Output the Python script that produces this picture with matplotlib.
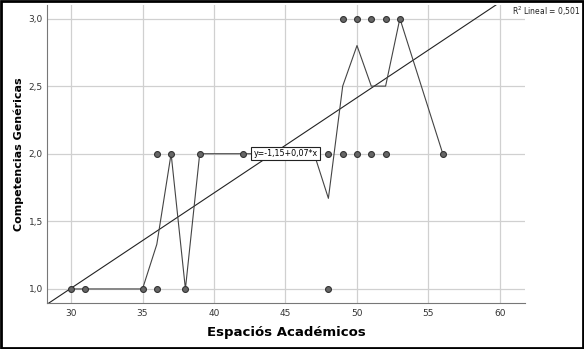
import matplotlib.pyplot as plt
import numpy as np

# individual cases (Espacios Academicos, Competencias Genericas)
pts_x = [30, 31, 35, 36, 38, 48,
         36, 37, 39, 42, 43, 47, 48, 49, 50, 51, 52, 56,
         49, 50, 51, 52, 53]
pts_y = [1.0, 1.0, 1.0, 1.0, 1.0, 1.0,
         2.0, 2.0, 2.0, 2.0, 2.0, 2.0, 2.0, 2.0, 2.0, 2.0, 2.0, 2.0,
         3.0, 3.0, 3.0, 3.0, 3.0]

# interpolation line through the mean per x
mean_x = [30, 31, 35, 36, 37, 38, 39, 42, 43, 47, 48, 49, 50, 51, 52, 53, 56]
mean_y = [1.0, 1.0, 1.0, 1.33, 2.0, 1.0, 2.0, 2.0, 2.0, 2.0, 1.67, 2.5, 2.8, 2.5, 2.5, 3.0, 2.0]

intercept = -1.11
slope = 0.0705
r2_text = 'R$^2$ Lineal = 0,501'
eq_text = 'y=-1,15+0,07*x'

x_ticks = [30, 35, 40, 45, 50, 55, 60]
y_ticks = [1.0, 1.5, 2.0, 2.5, 3.0]

fig = plt.figure(figsize=(5.84, 3.49), dpi=100)
ax = fig.add_axes([47 / 584, 46 / 349, 478 / 584, 298 / 349])

xmin, xmax = 28.32, 61.75
ymin, ymax = 0.896, 3.10
ax.set_xlim(xmin, xmax)
ax.set_ylim(ymin, ymax)

ax.set_xticks(x_ticks)
ax.set_yticks(y_ticks)
ax.set_xticklabels([str(t) for t in x_ticks])
ax.set_yticklabels(['{:.1f}'.format(t).replace('.', ',') for t in y_ticks])
ax.tick_params(length=0, labelsize=6.5, labelcolor='#333333', pad=3)
ax.tick_params(axis='x', pad=4)
ax.grid(True, color='#d0d0d0', linewidth=0.9)
ax.set_axisbelow(True)

for s in ['top', 'right']:
    ax.spines[s].set_visible(False)
for s in ['left', 'bottom']:
    ax.spines[s].set_color('#777777')
    ax.spines[s].set_linewidth(0.8)

# fit line
lx = np.array([xmin, xmax])
ax.plot(lx, intercept + slope * lx, color='#222222', linewidth=0.8, zorder=3)

ax.plot(mean_x, mean_y, color='#444444', linewidth=0.8, zorder=3)
ax.scatter(pts_x, pts_y, s=18, color='#666666', edgecolors='#333333',
           linewidths=0.8, zorder=4)

ax.text(45, 2.0, eq_text, fontsize=5.7, ha='center', va='center', zorder=5,
        bbox=dict(boxstyle='square,pad=0.25', facecolor='white',
                  edgecolor='#222222', linewidth=0.8))

fig.text(580 / 584, 1 - 11 / 349, r2_text, fontsize=5.5, ha='right',
         va='center', color='#222222')

ax.set_xlabel('Espaciós Académicos', fontsize=9.5, fontweight='bold', labelpad=6)
ax.set_ylabel('Competencias Genéricas', fontsize=8, fontweight='bold', labelpad=3)

# outer border
fig.patches.append(plt.Rectangle((0.002, 0.003), 0.996, 0.994, transform=fig.transFigure,
                                 fill=False, edgecolor='black', linewidth=2))

fig.savefig('out.png', dpi=100)
